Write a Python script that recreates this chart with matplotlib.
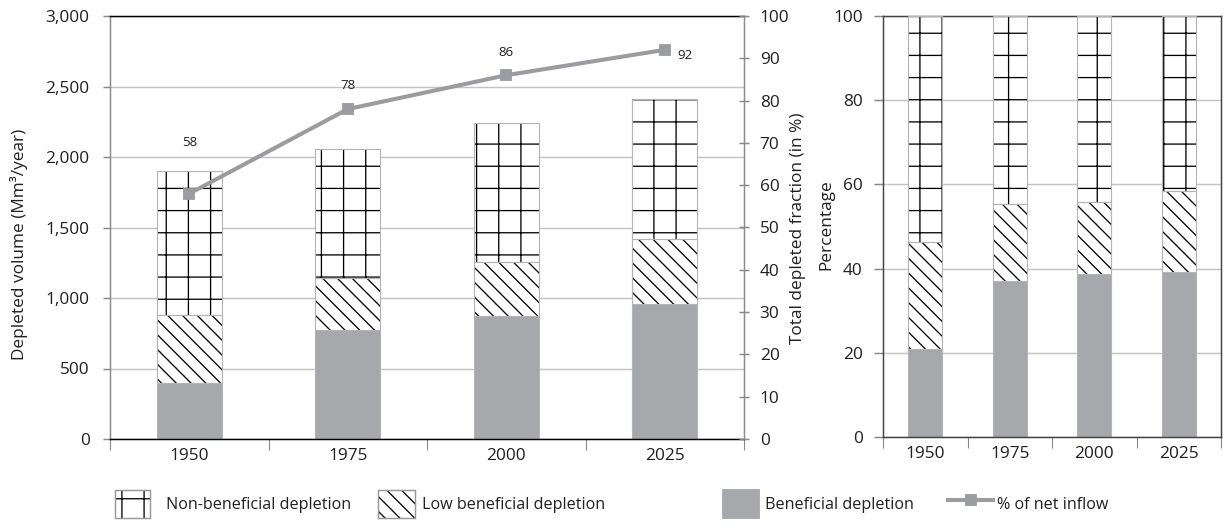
import matplotlib
matplotlib.use("Agg")
import matplotlib.pyplot as plt
from matplotlib.patches import Patch
from matplotlib.lines import Line2D
from matplotlib.legend_handler import HandlerTuple
import numpy as np

# data
years = ["1950", "1975", "2000", "2025"]
beneficial = [400, 770, 875, 955]          # Mm3/year
low_beneficial = [480, 370, 380, 460]
non_beneficial = [1020, 920, 985, 995]
pct_inflow = [58, 78, 86, 92]

beneficial_pct = [20.8, 37.0, 38.7, 39.3]
low_beneficial_pct = [25.5, 18.3, 17.2, 19.1]
non_beneficial_pct = [53.7, 44.7, 44.1, 41.6]

DPI = 133.33
W, H = 1228, 531
FS = 9.3
LEG_FS = 8.7
plt.rcParams["font.family"] = ["Open Sans", "DejaVu Sans"]
plt.rcParams["font.size"] = FS
plt.rcParams["hatch.linewidth"] = 0.7
TXT = "#231f20"
GREY_FILL = "#a7a8ab"
EDGE = "#b4b4b4"
GRID = "#c4c4c4"
LINE = "#9b9c9f"

fig = plt.figure(figsize=(W / DPI, H / DPI), dpi=DPI)
leg_px = LEG_FS * DPI / 72


def px_axes(x0, y0, x1, y1):
    return fig.add_axes([x0 / W, 1 - y1 / H, (x1 - x0) / W, (y1 - y0) / H])


def stacked(ax, vals, width):
    x = np.arange(len(years))
    b, l, n = vals
    ax.bar(x, b, width, color=GREY_FILL, edgecolor=EDGE, linewidth=0.6, zorder=2)
    ax.bar(x, l, width, bottom=b, color="white", edgecolor="black",
           hatch="\\\\\\", linewidth=0, zorder=2)
    ax.bar(x, l, width, bottom=b, fill=False, edgecolor=EDGE, linewidth=0.6, zorder=3)
    bot = np.array(b) + np.array(l)
    ax.bar(x, n, width, bottom=bot, color="white", edgecolor="black",
           hatch="+", linewidth=0, zorder=2)
    ax.bar(x, n, width, bottom=bot, fill=False, edgecolor=EDGE, linewidth=0.6, zorder=3)
    ax.set_xlim(-0.5, len(years) - 0.5)
    ax.set_xticks(x)
    ax.set_xticklabels(years)
    ax.set_xticks(np.arange(-0.5, len(years)), minor=True)
    ax.tick_params(axis="x", which="major", length=0, pad=5, colors=TXT)
    ax.tick_params(axis="x", which="minor", length=6, color="#888888", direction="out")
    ax.yaxis.grid(True, color=GRID, linewidth=0.8, zorder=0)
    ax.set_axisbelow(True)


# ---- left chart: volumes ----
ax = px_axes(110, 16, 744, 439)
stacked(ax, (beneficial, low_beneficial, non_beneficial), 0.41)
ax.set_ylim(0, 3000)
ax.set_yticks(np.arange(0, 3001, 500))
ax.set_yticklabels([f"{v:,}" for v in range(0, 3001, 500)])
ax.tick_params(axis="y", length=4, color="#888888", colors=TXT, pad=7)
ax.set_ylabel("Depleted volume (Mm³/year)", color=TXT)
ax.yaxis.set_label_coords(-(110 - 28) / 634, (439 - 244) / 423)
ax.spines["left"].set_color("#8a8a8a")
ax.spines["top"].set_color("black")
ax.spines["bottom"].set_color("black")
ax.spines["right"].set_visible(False)
for s in ax.spines.values():
    s.set_linewidth(0.8)

ax2 = ax.twinx()
ax2.set_ylim(0, 100)
ax2.set_yticks(np.arange(0, 101, 10))
ax2.tick_params(axis="y", length=5, direction="inout", color="#888888", colors=TXT, pad=6)
for s in ["left", "top", "bottom"]:
    ax2.spines[s].set_visible(False)
ax2.spines["right"].set_color("#8a8a8a")
ax2.spines["right"].set_linewidth(0.8)
ax2.set_ylabel("Total depleted fraction (in %)", color=TXT)
ax2.yaxis.set_label_coords((790 - 110) / 634, (439 - 228) / 423)
xs = np.arange(len(years))
ax2.plot(xs, pct_inflow, color=LINE, linewidth=2.2, marker="s", markersize=5.5, zorder=5)
label_offsets = [(0, 24), (0, 9), (0, 9), (11, -3)]
for xi, v, off in zip(xs, pct_inflow, label_offsets):
    ax2.annotate(str(v), (xi, v), xytext=off, textcoords="offset points",
                 ha="center", va="bottom" if off[1] > 0 else "center",
                 fontsize=7.2, color=TXT)

# ---- right chart: percentages ----
axp = px_axes(883, 16, 1221, 437)
stacked(axp, (beneficial_pct, low_beneficial_pct, non_beneficial_pct), 0.4)
axp.set_ylim(0, 100)
axp.set_yticks(np.arange(0, 101, 20))
axp.tick_params(axis="y", length=5, color="#888888", colors=TXT, pad=6)
axp.set_ylabel("Percentage", color=TXT)
axp.yaxis.set_label_coords(-(883 - 834) / 338, (437 - 225) / 421)
for s in axp.spines.values():
    s.set_color("#444444")
    s.set_linewidth(0.8)

# ---- legend ----
def hatched_key(h):
    return (Patch(facecolor="white", edgecolor="black", hatch=h, linewidth=0),
            Patch(fill=False, edgecolor="#999999", linewidth=0.8))


# (handle, label, key left px, key width px, gap to text px)
items = [
    (hatched_key("+"), "Non-beneficial depletion", 115, 35, 16),
    (hatched_key("\\\\\\"), "Low beneficial depletion", 378, 37, 7),
    (Patch(facecolor=GREY_FILL, edgecolor=GREY_FILL), "Beneficial depletion", 723, 36, 6),
    (Line2D([], [], color=LINE, linewidth=2.2, marker="s", markersize=5.5), "% of net inflow", 948, 45, 4),
]
for h, lab, xpx, wpx, gap in items:
    fig.legend([h], [lab], loc="center left", bbox_to_anchor=(xpx / W, 1 - 504 / H),
               frameon=False, borderpad=0, borderaxespad=0, handlelength=wpx / leg_px,
               handleheight=36 / leg_px, handletextpad=gap / leg_px, labelcolor=TXT,
               fontsize=LEG_FS, handler_map={tuple: HandlerTuple(ndivide=1, pad=0)})

fig.savefig("out.png", dpi=DPI)
